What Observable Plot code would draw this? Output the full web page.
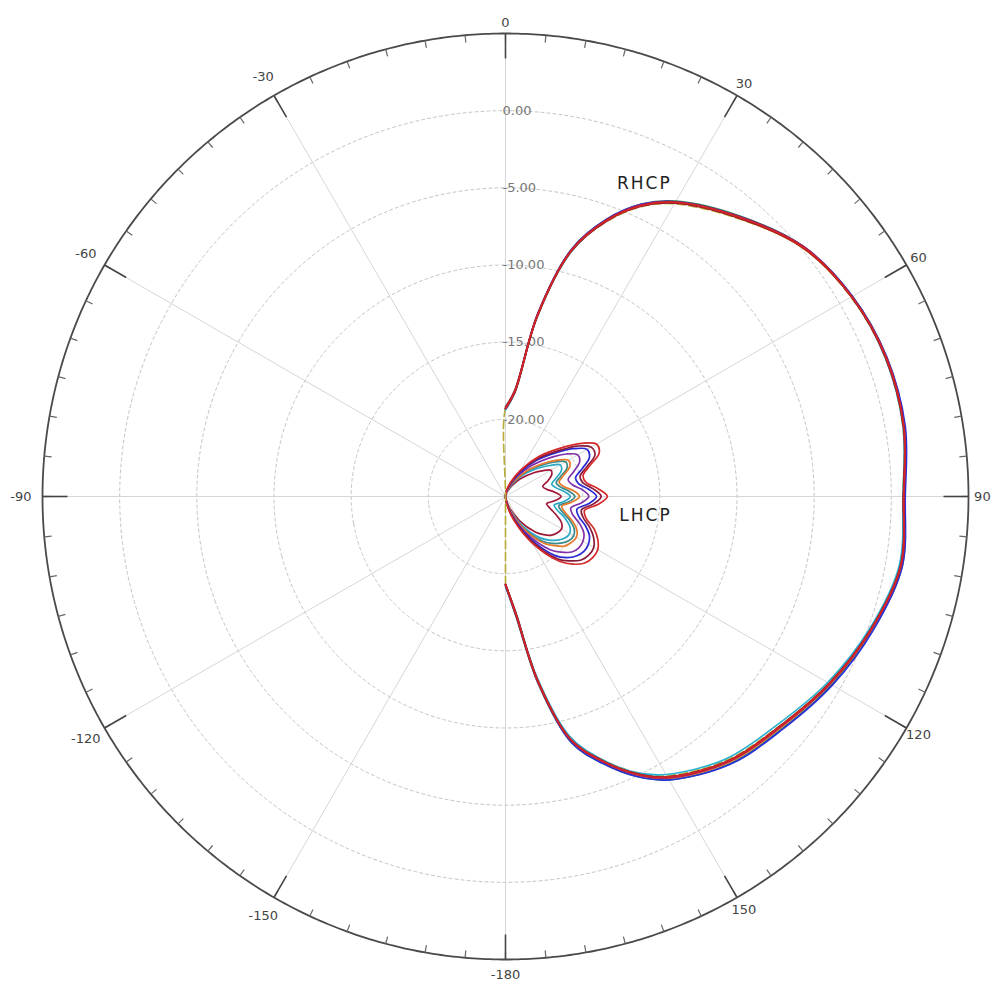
<!DOCTYPE html>
<html>
<head>
<meta charset="utf-8">
<script src="https://cdn.jsdelivr.net/npm/d3@7"></script>
<script src="https://cdn.jsdelivr.net/npm/@observablehq/plot@0.6"></script>
<style>
  body { margin: 0; background: #fff; }
  #chart { width: 1000px; height: 1000px; }
</style>
</head>
<body>
<div id="chart"></div>
<script>
// ---------------- data ----------------
const rMin = -25, rMax = 5;                       // radial range (dB)
const ringValues = [-20, -15, -10, -5, 0];
const ringLabels = ["-20.00", "-15.00", "-10.00", "-5.00", "0.00"];
const spokeAngles = [0, 30, 60, 90, 120, 150, 180, 210, 240, 270, 300, 330];
const angleTickLabels = ["0", "30", "60", "90", "120", "150", "-180", "-150", "-120", "-90", "-60", "-30"];
const minorTickAngles = d3.range(0, 360, 5);

// RHCP traces (angle in degrees, clockwise from top)
const rhcpAngles = [0, 5, 10, 15, 20, 25, 30, 40, 50, 60, 70, 80, 90, 100, 110, 120, 130, 140, 150, 155, 160, 165, 170, 175, 180];
const rhcpAxisAngles = [-180, -90];   // left half: below scale floor
const rhcpAxisValues = [-19.3, -25];
const rhcpYellow = [-19.3, -18.3, -13.2, -8.6, -6.1, -4.3, -3.1, -1.5, 0.1, 0.85, 1.2, 1.15, 0.75, 0.95, 0.15, -0.8, -1.85, -2.7, -4.1, -5.3, -6.9, -8.8, -12.9, -17.5, -19.3];
const rhcpGreen  = [-19.2, -18.1, -13.0, -8.4, -5.9, -4.1, -2.9, -1.3, 0.2, 0.95, 1.3, 1.25, 0.85, 1.1, 0.3, -0.6, -1.6, -2.4, -3.8, -5.0, -6.6, -8.5, -12.6, -17.2, -19.2];
const rhcpCyan   = [-19.4, -18.3, -13.2, -8.6, -6.0, -4.2, -3.0, -1.4, 0.15, 0.9, 1.2, 1.15, 0.75, 0.9, 0.1, -0.9, -2.0, -2.8, -4.2, -5.3, -6.9, -8.9, -13.0, -17.5, -19.3];
const rhcpOrange = [-19.3, -18.2, -13.1, -8.5, -6.0, -4.2, -3.0, -1.45, 0.1, 0.9, 1.25, 1.2, 0.8, 1.05, 0.25, -0.7, -1.7, -2.5, -3.9, -5.1, -6.7, -8.6, -12.7, -17.3, -19.3];
const rhcpBlue   = [-19.3, -18.2, -13.0, -8.4, -5.9, -4.1, -2.95, -1.35, 0.2, 0.95, 1.3, 1.3, 0.9, 1.1, 0.35, -0.55, -1.55, -2.35, -3.8, -5.0, -6.6, -8.5, -12.7, -17.3, -19.2];
const rhcpPurple = [-19.3, -18.2, -13.1, -8.5, -6.0, -4.2, -3.0, -1.4, 0.15, 0.9, 1.25, 1.2, 0.8, 1.0, 0.2, -0.75, -1.8, -2.6, -4.0, -5.2, -6.8, -8.7, -12.8, -17.4, -19.3];
const rhcpMagenta= [-19.2, -18.1, -13.0, -8.45, -5.95, -4.15, -2.95, -1.35, 0.2, 0.92, 1.28, 1.22, 0.82, 1.02, 0.22, -0.72, -1.75, -2.55, -3.95, -5.15, -6.75, -8.65, -12.75, -17.35, -19.3];
const rhcpDarkRed= [-19.3, -18.25, -13.15, -8.55, -6.05, -4.25, -3.05, -1.45, 0.12, 0.88, 1.22, 1.18, 0.78, 0.98, 0.18, -0.78, -1.82, -2.62, -4.02, -5.22, -6.82, -8.72, -12.82, -17.42, -19.3];
const rhcpRed    = [-19.3, -18.2, -13.1, -8.5, -6.0, -4.2, -3.0, -1.4, 0.15, 0.9, 1.25, 1.2, 0.8, 1.0, 0.2, -0.75, -1.8, -2.6, -4.0, -5.2, -6.8, -8.7, -12.8, -17.4, -19.3];

// LHCP traces
const lhcpAngles = [0, 10, 20, 30, 40, 50, 55, 60, 65, 70, 75, 80, 85, 90, 95, 100, 105, 110, 115, 120, 125, 130, 135, 140, 150, 160, 170, 180];
const lhcpRed    = [-25, -24.6, -24.0, -23.0, -21.6, -20.0, -19.0, -18.2, -18.3, -19.2, -19.8, -19.7, -19.0, -18.4, -19.0, -19.8, -19.6, -18.9, -18.4, -18.1, -18.1, -18.3, -18.8, -19.5, -21.5, -23.3, -24.5, -25];
const lhcpMaroon = [-25, -24.6, -24.1, -23.1, -21.8, -20.3, -19.3, -18.6, -18.6, -19.4, -20.0, -19.9, -19.3, -18.8, -19.3, -20.0, -19.8, -19.2, -18.7, -18.4, -18.4, -18.6, -19.1, -19.7, -21.7, -23.4, -24.5, -25];
const lhcpBlue   = [-25, -24.7, -24.2, -23.3, -22.0, -20.5, -19.6, -18.9, -19.0, -19.7, -20.3, -20.2, -19.6, -19.1, -19.6, -20.3, -20.1, -19.5, -19.0, -18.8, -18.8, -19.0, -19.4, -20.0, -21.9, -23.5, -24.6, -25];
const lhcpPurple = [-25, -24.7, -24.3, -23.5, -22.4, -21.0, -20.2, -19.6, -19.7, -20.3, -20.8, -20.6, -20.0, -19.6, -20.1, -20.7, -20.5, -19.9, -19.4, -19.2, -19.2, -19.4, -19.9, -20.5, -22.2, -23.7, -24.6, -25];
const lhcpOrange = [-25, -24.8, -24.4, -23.8, -22.8, -21.6, -20.9, -20.3, -20.4, -21.0, -21.4, -21.2, -20.6, -20.2, -20.7, -21.3, -21.0, -20.4, -19.9, -19.7, -19.8, -20.0, -20.5, -21.0, -22.5, -23.9, -24.7, -25];
const lhcpTeal   = [-25, -24.8, -24.5, -23.9, -22.9, -21.8, -21.1, -20.5, -20.6, -21.2, -21.6, -21.4, -20.9, -20.5, -20.9, -21.5, -21.2, -20.6, -20.1, -19.9, -20.0, -20.3, -20.7, -21.2, -22.6, -23.9, -24.7, -25];
const lhcpCyan   = [-25, -24.8, -24.5, -24.0, -23.1, -22.1, -21.5, -20.9, -21.0, -21.5, -21.9, -21.7, -21.2, -20.8, -21.2, -21.8, -21.5, -20.9, -20.4, -20.2, -20.3, -20.6, -21.0, -21.5, -22.8, -24.0, -24.7, -25];
const lhcpDarkRed= [-25, -24.9, -24.6, -24.2, -23.5, -22.6, -22.1, -21.6, -21.7, -22.1, -22.5, -22.3, -21.8, -21.4, -21.8, -22.3, -22.0, -21.5, -21.0, -20.8, -20.9, -21.1, -21.5, -22.0, -23.2, -24.2, -24.8, -25];

const annotations = [
  {label: "RHCP", angle: 23.9, value: -2.8},
  {label: "LHCP", angle: 97.7, value: -15.85}
];

// styles (kept apart from data)
const rhcpSeries = [
  {angles: [...rhcpAxisAngles, ...rhcpAngles], values: [...rhcpAxisValues, ...rhcpYellow], color: "#b8ad3a", dash: "8,4"},
  {angles: rhcpAngles, values: rhcpGreen, color: "#2e8b57"},
  {angles: rhcpAngles, values: rhcpCyan, color: "#2ab0d0"},
  {angles: rhcpAngles, values: rhcpOrange, color: "#e8802a"},
  {angles: rhcpAngles, values: rhcpBlue, color: "#2a30d8"},
  {angles: rhcpAngles, values: rhcpPurple, color: "#7a2c9c"},
  {angles: rhcpAngles, values: rhcpMagenta, color: "#b0205a"},
  {angles: rhcpAngles, values: rhcpDarkRed, color: "#8c1a2a"},
  {angles: rhcpAngles, values: rhcpRed, color: "#d42424"}
];
const lhcpSeries = [
  {angles: lhcpAngles, values: lhcpDarkRed, color: "#a01838"},
  {angles: lhcpAngles, values: lhcpCyan, color: "#2aa8c8"},
  {angles: lhcpAngles, values: lhcpTeal, color: "#3a8a8a"},
  {angles: lhcpAngles, values: lhcpOrange, color: "#e8782a"},
  {angles: lhcpAngles, values: lhcpPurple, color: "#8030a8"},
  {angles: lhcpAngles, values: lhcpBlue, color: "#2a2ad4"},
  {angles: lhcpAngles, values: lhcpMaroon, color: "#8a1a3a"},
  {angles: lhcpAngles, values: lhcpRed, color: "#d42a2a"}
];

// ---------------- polar mapping via azimuthal projection ----------------
const lon = a => 180 - a;                 // clockwise from top
const lat = v => 90 - (v - rMin);         // radial distance from the pole
const circle = r => d3.geoCircle().center([0, 90]).radius(r).precision(0.5)();
const outer = circle(rMax - rMin);
// label offset beyond the rim (in dB units), depends on side
const labelGap = a => a === 0 ? 0.72 : a === 180 ? 1.02 : a < 180 ? 0.9 : 1.4;

const toRows = s => s.angles.map((a, j) => ({angle: a, value: s.values[j]}));

const lineMarks = [...lhcpSeries, ...rhcpSeries].map(s =>
  Plot.line(toRows(s), {
    x: d => lon(d.angle), y: d => lat(d.value),
    stroke: s.color, strokeWidth: 1.7, strokeDasharray: s.dash, curve: "catmull-rom"
  })
);

const chart = Plot.plot({
  width: 1000,
  height: 1000,
  marginLeft: 42, marginRight: 32, marginTop: 33, marginBottom: 41,
  projection: {type: "azimuthal-equidistant", rotate: [0, -90], domain: outer, clip: false},
  style: {fontFamily: "DejaVu Sans", background: "#fff"},
  marks: [
    Plot.geo(ringValues, {geometry: v => circle(v - rMin), stroke: "#c4c4c4", strokeDasharray: "3,3", fill: "none"}),
    Plot.link(spokeAngles, {x1: a => lon(a), y1: 90, x2: a => lon(a), y2: lat(rMax), stroke: "#d6d6d6"}),
    Plot.geo([outer], {stroke: "#4a4a4a", strokeWidth: 1.8, fill: "none"}),
    Plot.link(minorTickAngles, {x1: a => lon(a), y1: lat(rMax), x2: a => lon(a), y2: lat(rMax) + 0.48, stroke: "#666", strokeWidth: 1.2}),
    Plot.link(spokeAngles, {x1: a => lon(a), y1: lat(rMax), x2: a => lon(a), y2: lat(rMax) + 1.62, stroke: "#444", strokeWidth: 1.6}),
    Plot.text(spokeAngles, {x: a => lon(a), y: a => lat(rMax) - labelGap(a), text: (d, i) => angleTickLabels[i], fontSize: 13, fill: "#444"}),
    Plot.text(ringValues, {x: () => lon(0), y: v => lat(v), text: (d, i) => ringLabels[i], textAnchor: "start", dx: -3, fontSize: 13, fill: "#777"}),
    ...lineMarks,
    Plot.text(annotations, {x: d => lon(d.angle), y: d => lat(d.value), text: d => d.label, fontSize: 17, fill: "#222"})
  ]
});
chart.querySelectorAll("text").forEach(t => {
  if (t.textContent === "RHCP" || t.textContent === "LHCP") t.style.letterSpacing = "2px";
});
document.getElementById("chart").appendChild(chart);
</script>
</body>
</html>
